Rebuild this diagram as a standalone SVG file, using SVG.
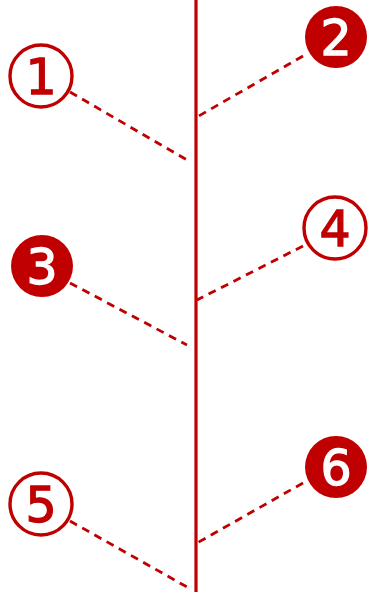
<svg xmlns="http://www.w3.org/2000/svg" width="368" height="592" viewBox="0 0 368 592">
<style>
.c{stroke:#C00000;stroke-width:2.8;fill:none;stroke-dasharray:8,6}
.o{fill:#fff;stroke:#C00000;stroke-width:3.4}
.f{fill:#C00000;stroke:none}
.t{font-family:"DejaVu Sans",sans-serif;font-size:49px;text-anchor:middle;stroke-width:1.3}
.to{fill:#C00000;stroke:#C00000}
.tf{fill:#fff;stroke:#fff}
</style>
<rect width="368" height="592" fill="#fff"/>
<g id="connectors">
<line x1="196" y1="0" x2="196" y2="592" stroke="#C00000" stroke-width="3.2"/>
<line class="c" x1="70" y1="92" x2="187" y2="160"/>
<line class="c" x1="303" y1="56" x2="197" y2="117"/>
<line class="c" x1="70" y1="283" x2="187" y2="345"/>
<line class="c" x1="303" y1="246" x2="197" y2="300"/>
<line class="c" x1="70" y1="521" x2="187" y2="587"/>
<line class="c" x1="303" y1="483" x2="197" y2="543"/>
</g>
<g id="n1"><circle class="o" cx="41" cy="76" r="31"/><text class="t to" x="41" y="94">1</text></g>
<g id="n2"><circle class="f" cx="336" cy="37" r="31"/><text class="t tf" x="336" y="55">2</text></g>
<g id="n3"><circle class="f" cx="42" cy="266" r="31"/><text class="t tf" x="42" y="284">3</text></g>
<g id="n4"><circle class="o" cx="335" cy="228" r="31"/><text class="t to" x="335" y="246">4</text></g>
<g id="n5"><circle class="o" cx="41" cy="504" r="31"/><text class="t to" x="41" y="522">5</text></g>
<g id="n6"><circle class="f" cx="336" cy="467" r="31"/><text class="t tf" x="336" y="485">6</text></g>
</svg>
